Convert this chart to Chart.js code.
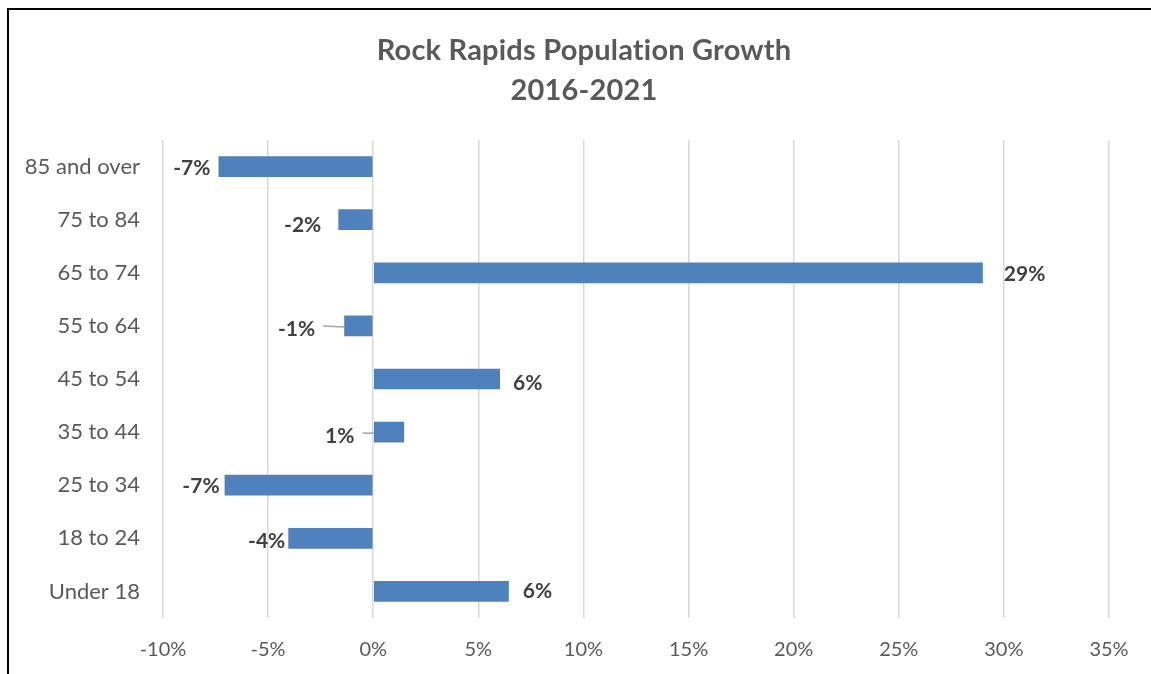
<!DOCTYPE html>
<html>
<head>
<meta charset="utf-8">
<title>Rock Rapids Population Growth</title>
<script src="https://cdn.jsdelivr.net/npm/chart.js@4/dist/chart.umd.min.js"></script>
<style>
  body { margin: 0; background: #fff; }
  #frame {
    position: absolute; left: 7px; top: 8px;
    width: 1144px; height: 666px;
    border-top: 2px solid #000; border-left: 2px solid #000;
  }
</style>
</head>
<body>
<div id="frame"><canvas id="growthChart" width="1142" height="664"></canvas></div>
<script>
////////////data////////////
var chartTitle = ['Rock Rapids Population Growth', '2016-2021'];
var ageGroups = ['85 and over', '75 to 84', '65 to 74', '55 to 64', '45 to 54',
                 '35 to 44', '25 to 34', '18 to 24', 'Under 18'];
var growthPct = [-7.36, -1.66, 29.0, -1.38, 6.03, 1.47, -7.07, -4.04, 6.45];
var xTicks = [-10, -5, 0, 5, 10, 15, 20, 25, 30, 35];

// hand-placed label nudges [dx, dy, leader line]
var labelNudge = [[0, 2, false], [-9, 6, false], [13, 1, false], [-21, 3, true], [5, 4, false],
                  [-87, 4, true], [3, 1, false], [5, 3, false], [6, 0, false]];

var FONT = 'Lato, "Open Sans", sans-serif';

////////////title (centred on the frame, not the plot)////////////
var titleBlock = {
  id: 'titleBlock',
  afterDraw: function(chart) {
    var ctx = chart.ctx;
    ctx.save();
    ctx.font = 'bold 29px ' + FONT;
    ctx.letterSpacing = '0.2px'; // keeps the "ti" ligature off
    ctx.fillStyle = '#595959';
    ctx.textAlign = 'center';
    ctx.textBaseline = 'middle';
    ctx.fillText(chartTitle[0], 575, 41);
    ctx.fillText(chartTitle[1], 575, 81);
    ctx.restore();
  }
};

////////////value labels////////////
var valueLabels = {
  id: 'valueLabels',
  afterDatasetsDraw: function(chart) {
    var ctx = chart.ctx;
    var meta = chart.getDatasetMeta(0);
    ctx.save();
    ctx.font = 'bold 21px ' + FONT;
    ctx.fillStyle = '#404040';
    ctx.textBaseline = 'middle';
    ctx.textAlign = 'left';
    meta.data.forEach(function(bar, i) {
      var v = growthPct[i];
      var text = Math.round(v) + '%';
      var w = ctx.measureText(text).width;
      var nudge = labelNudge[i];
      var left = v >= 0 ? bar.x + 8 + nudge[0] : bar.x - 8 - w + nudge[0];
      var y = bar.y + nudge[1];
      ctx.fillText(text, left, y);
      if (nudge[2]) {
        // leader line from the label to the near edge of the bar
        var barLeft = Math.min(bar.x, bar.base);
        ctx.strokeStyle = '#A6A6A6';
        ctx.lineWidth = 1.5;
        ctx.beginPath();
        ctx.moveTo(left + w + 8, y - 3);
        ctx.lineTo(barLeft, bar.y + 1);
        ctx.stroke();
      }
    });
    ctx.restore();
  }
};

////////////create chart////////////
var myChart = new Chart(document.getElementById('growthChart'), {
  type: 'bar',
  data: {
    labels: ageGroups,
    datasets: [{
      data: growthPct,
      backgroundColor: '#4F81BD',
      borderWidth: 0,
      categoryPercentage: 1,
      barPercentage: 0.39
    }]
  },
  options: {
    indexAxis: 'y',
    responsive: false,
    animation: false,
    layout: { padding: { left: 0, right: 42, top: 130, bottom: 10 } },
    plugins: {
      legend: { display: false },
      tooltip: { enabled: false },
      title: { display: false }
    },
    scales: {
      x: {
        min: -10,
        max: 35,
        afterBuildTicks: function(axis) {
          axis.ticks = xTicks.map(function(v) { return { value: v }; });
        },
        afterFit: function(axis) { axis.height = 46; },
        grid: { color: '#D9D9D9', lineWidth: 1.5, drawTicks: false },
        border: { display: false },
        ticks: {
          color: '#595959',
          font: { family: FONT, size: 20 },
          padding: 20,
          callback: function(v) { return v + '%'; }
        }
      },
      y: {
        grid: { display: false, drawTicks: false },
        border: { display: false },
        afterFit: function(axis) { axis.width = 154; },
        ticks: {
          color: '#595959',
          font: { family: FONT, size: 22 },
          padding: 23
        }
      }
    }
  },
  plugins: [valueLabels, titleBlock]
}); //end new Chart
</script>
</body>
</html>
